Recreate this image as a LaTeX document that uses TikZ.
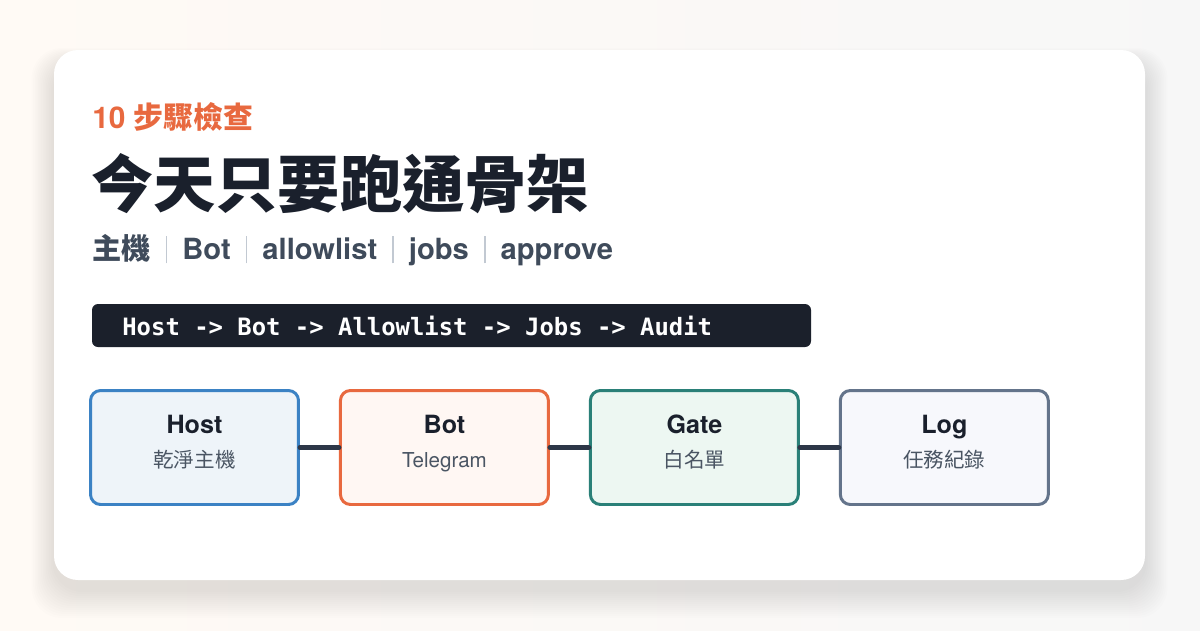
\documentclass[tikz,border=0pt]{standalone}
\usepackage{fontspec}
\setmainfont{TeX Gyre Heros}
\setmonofont{DejaVu Sans Mono}
\newfontfamily\cjk{Noto Sans CJK TC}
\usetikzlibrary{positioning}

\definecolor{accent}{HTML}{E8693F}
\definecolor{ink}{HTML}{1A202C}
\definecolor{slate}{HTML}{3F4B5B}
\definecolor{muted}{HTML}{4A5563}
\definecolor{sepgray}{HTML}{C2C9D2}
\definecolor{barbg}{HTML}{1B202B}
\definecolor{wire}{HTML}{2D3748}
\definecolor{hostline}{HTML}{3B82C4}
\definecolor{hostfill}{HTML}{EEF4F9}
\definecolor{botline}{HTML}{E8693F}
\definecolor{botfill}{HTML}{FFF7F3}
\definecolor{gateline}{HTML}{2A8078}
\definecolor{gatefill}{HTML}{EDF7F2}
\definecolor{logline}{HTML}{64748B}
\definecolor{logfill}{HTML}{F7F8FC}

\newcommand{\sepbar}{\hspace{0.52em}{\color{sepgray}\rule[-0.14em]{0.8pt}{0.95em}}\hspace{0.52em}}

\tikzset{
  stagebox/.style={draw=#1line, fill=#1fill, line width=1.7pt, rounded corners=0.2cm,
    minimum width=4.16cm, minimum height=2.28cm, inner sep=0pt},
  stagetitle/.style={text=ink, font=\fontsize{14.3}{17}\selectfont\bfseries, inner sep=0pt, anchor=base},
  stagesub/.style={text=muted, font=\fontsize{11.7}{14}\selectfont, inner sep=0pt, anchor=base},
  link/.style={wire, line width=2.8pt, line cap=round},
}

\begin{document}
\begin{tikzpicture}[x=0.02cm, y=-0.02cm, node distance=0.78cm]
\useasboundingbox (0,0) rectangle (1200,630);
% page background
\shade[left color=orange!4!white, right color=teal!3!gray!6] (0,0) rectangle (1200,630);
% card shadow
\foreach \i in {1,...,14}
  \fill[black, opacity=0.006, rounded corners=0.6cm]
    (54-1.6*\i,62-1*\i) rectangle (1145+1.6*\i,590+2*\i);
\fill[white, rounded corners=0.48cm] (54,50) rectangle (1145,580);

% heading
\node[anchor=west, inner sep=0pt, text=accent, font=\fontsize{17}{19}\selectfont\bfseries]
  (kicker) at (92,117) {10 {\cjk\bfseries 步驟檢查}};
\node[anchor=west, inner sep=0pt, text=ink, font=\fontsize{35.4}{40}\selectfont\cjk\bfseries]
  (title) at (91,184) {今天只要跑通骨架};
\node[anchor=west, inner sep=0pt, text=slate, font=\fontsize{16.6}{19}\selectfont\bfseries]
  (tags) at (92,250) {{\cjk\bfseries 主機}\sepbar Bot\sepbar allowlist\sepbar jobs\sepbar approve};

% flow bar
\fill[barbg, rounded corners=0.12cm] (92,304) rectangle (811,347);
\node[anchor=west, inner sep=0pt, text=white, font=\fontsize{13.6}{16}\selectfont\ttfamily\bfseries]
  (flow) at (122,326) {Host -> Bot -> Allowlist -> Jobs -> Audit};

% stages
\node[stagebox=host] (host) at (194.5,447.5) {};
\node[stagebox=bot, right=of host] (bot) {};
\node[stagebox=gate, right=of bot] (gate) {};
\node[stagebox=log, right=of gate] (log) {};

\node[stagetitle] (hostT) at ([yshift=0.29cm]host.center) {Host};
\node[stagesub] (hostS) at ([yshift=-0.39cm]host.center) {\cjk 乾淨主機};
\node[stagetitle] (botT) at ([yshift=0.29cm]bot.center) {Bot};
\node[stagesub] (botS) at ([yshift=-0.39cm]bot.center) {Telegram};
\node[stagetitle] (gateT) at ([yshift=0.29cm]gate.center) {Gate};
\node[stagesub] (gateS) at ([yshift=-0.39cm]gate.center) {\cjk 白名單};
\node[stagetitle] (logT) at ([yshift=0.29cm]log.center) {Log};
\node[stagesub] (logS) at ([yshift=-0.39cm]log.center) {\cjk 任務紀錄};

\draw[link] (host) -- (bot);
\draw[link] (bot) -- (gate);
\draw[link] (gate) -- (log);
\end{tikzpicture}
\end{document}
